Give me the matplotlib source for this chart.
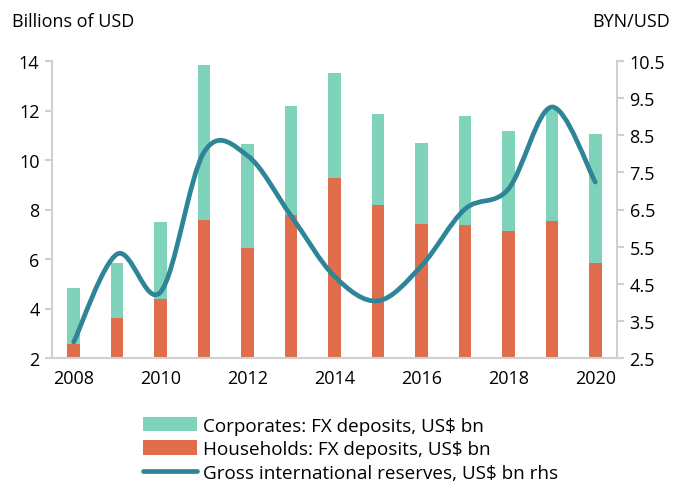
import matplotlib.pyplot as plt
from matplotlib.path import Path
from matplotlib.patches import PathPatch
import numpy as np

years = [2008, 2009, 2010, 2011, 2012, 2013, 2014, 2015, 2016, 2017, 2018, 2019, 2020]
households = [2.57, 3.62, 4.40, 7.59, 6.43, 7.79, 9.26, 8.20, 7.41, 7.37, 7.12, 7.54, 5.84]
bar_totals = [4.83, 5.84, 7.48, 13.84, 10.63, 12.17, 13.53, 11.85, 10.69, 11.77, 11.17, 12.0, 11.05]
reserves = [2.93, 5.30, 4.28, 8.05, 7.95, 6.33, 4.70, 4.04, 4.98, 6.51, 7.05, 9.26, 7.24]

base = 2.0
corporates = [t - h for t, h in zip(bar_totals, households)]

teal = "#80D3BB"
orange = "#E06D4C"
line_c = "#2E8598"
grey = "#D0D0D0"

plt.rcParams['font.family'] = ['Open Sans', 'DejaVu Sans']
plt.rcParams['font.size'] = 13

fig = plt.figure(figsize=(6.77, 4.85), dpi=100)
ax = fig.add_axes([52/677, 1-359/485, (617-52)/677, (359-62)/485])
ax2 = ax.twinx()

w = 0.29
hh = [h - base for h in households]
b1 = ax.bar(years, hh, w, bottom=base, color=orange, zorder=2,
            label="Households: FX deposits, US$ bn")
b2 = ax.bar(years, corporates, w, bottom=households, color=teal, zorder=2,
            label="Corporates: FX deposits, US$ bn")

# smooth line like Excel (Catmull-Rom style bezier through the points)
pts = np.array(list(zip(years, reserves)), dtype=float)
verts = [pts[0]]
codes = [Path.MOVETO]
n = len(pts)
for i in range(n - 1):
    p0 = pts[max(i - 1, 0)]
    p1 = pts[i]
    p2 = pts[i + 1]
    p3 = pts[min(i + 2, n - 1)]
    c1 = p1 + (p2 - p0) / 6
    c2 = p2 - (p3 - p1) / 6
    verts += [c1, c2, p2]
    codes += [Path.CURVE4] * 3
patch = PathPatch(Path(verts, codes), facecolor="none", edgecolor=line_c,
                  lw=3.4, capstyle="round", zorder=3)
ax2.add_patch(patch)
ln, = ax2.plot([], [], color=line_c, lw=3.4, solid_capstyle="round",
               label="Gross international reserves, US$ bn rhs")

ax.set_xlim(2007.5, 2020.5)
ax.set_ylim(2, 14)
ax.set_yticks(np.arange(2, 15, 2))
ax2.set_ylim(2.5, 10.5)
ax2.set_yticks(np.arange(2.5, 10.6, 1))
ax2.set_yticklabels([f"{v:.1f}" for v in np.arange(2.5, 10.6, 1)])
ax.set_xticks(range(2008, 2021, 2))

for a in (ax, ax2):
    a.spines['top'].set_visible(False)
    for s in ('left', 'right', 'bottom'):
        a.spines[s].set_color(grey)
        a.spines[s].set_linewidth(1.5)
    a.tick_params(axis='y', color=grey, width=1.5, length=5, pad=4)
    a.tick_params(axis='x', length=0, pad=8)
ax.spines['right'].set_visible(False)
ax2.spines['left'].set_visible(False)
ax2.spines['bottom'].set_visible(False)

fig.text(12/677, 1-22/485, "Billions of USD", ha="left", va="center")
fig.text(670/677, 1-22/485, "BYN/USD", ha="right", va="center")

fig.legend([b2, b1, ln], [b2.get_label(), b1.get_label(), ln.get_label()],
           loc="upper left", bbox_to_anchor=(135/677, 1-410/485), frameon=False,
           fontsize=13.6, handlelength=2.9, handleheight=0.8, labelspacing=0.3,
           handletextpad=0.3, borderaxespad=0)

fig.savefig("out.png", dpi=100)
